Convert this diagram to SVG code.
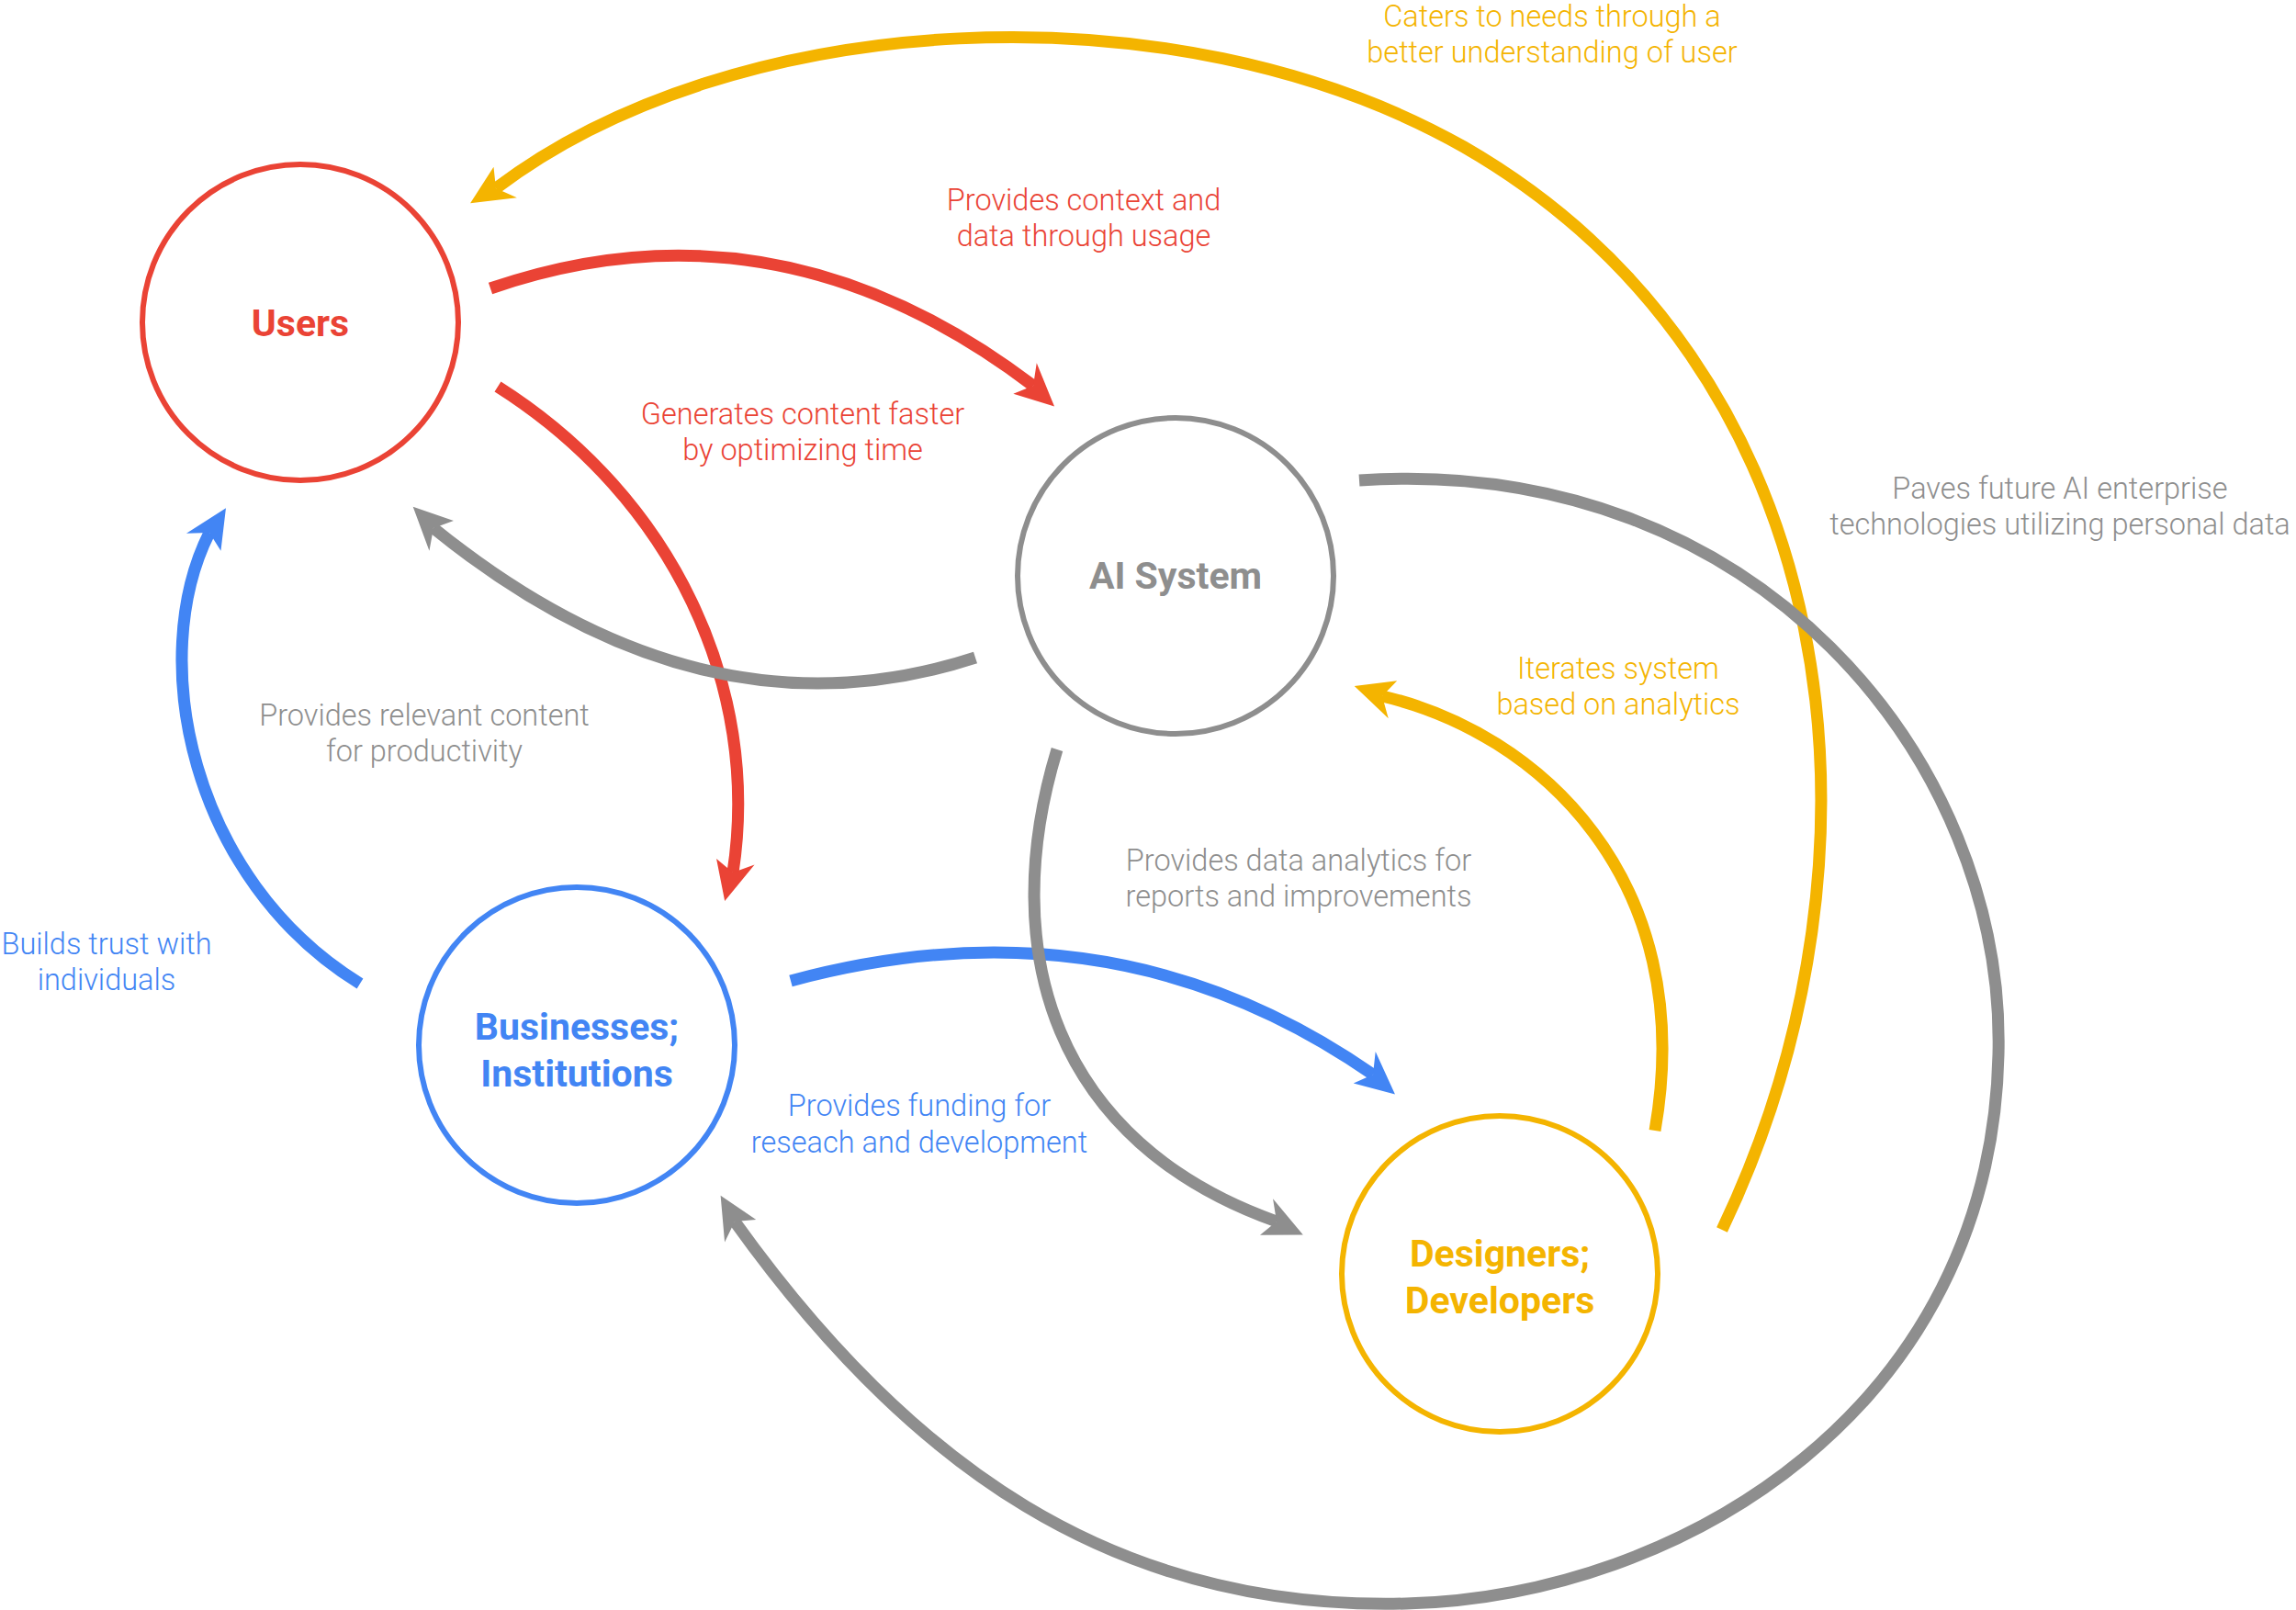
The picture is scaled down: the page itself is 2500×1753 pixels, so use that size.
<svg xmlns="http://www.w3.org/2000/svg" width="2500" height="1753" viewBox="0 0 2500 1753">
<style>
.node{fill:#fff;stroke-width:6}
.nt{font-family:Roboto,"Liberation Sans",sans-serif;font-weight:bold;font-size:41px;text-anchor:middle}
.lb{font-family:Roboto,"Liberation Sans",sans-serif;font-weight:300;font-size:32.5px;text-anchor:middle}
.c{fill:none;stroke-width:13;stroke-linecap:butt}
.red{stroke:#EA4335}.blue{stroke:#4285F4}.yel{stroke:#F4B400}.gry{stroke:#8E8E8E}
.tred{fill:#EA4335}.tblue{fill:#4285F4}.tyel{fill:#F4B400}.tgry{fill:#8E8E8E}
</style>
<defs>
<marker id="ar-r" viewBox="-10 -25 60 50" markerWidth="60" markerHeight="50" refX="10" refY="0" orient="auto" markerUnits="userSpaceOnUse"><path d="M-2,-22 L42,4 L-2,20 L10,0 z" fill="#EA4335"/></marker>
<marker id="ar-b" viewBox="-10 -25 60 50" markerWidth="60" markerHeight="50" refX="10" refY="0" orient="auto" markerUnits="userSpaceOnUse"><path d="M-2,-22 L42,4 L-2,20 L10,0 z" fill="#4285F4"/></marker>
<marker id="ar-y" viewBox="-10 -25 60 50" markerWidth="60" markerHeight="50" refX="10" refY="0" orient="auto" markerUnits="userSpaceOnUse"><path d="M-2,-22 L42,4 L-2,20 L10,0 z" fill="#F4B400"/></marker>
<marker id="ar-g" viewBox="-10 -25 60 50" markerWidth="60" markerHeight="50" refX="10" refY="0" orient="auto" markerUnits="userSpaceOnUse"><path d="M-2,-22 L42,4 L-2,20 L10,0 z" fill="#8E8E8E"/></marker>
</defs>
<rect width="2500" height="1753" fill="#fff"/>
<g id="connectors">
<path class="c yel" marker-end="url(#ar-y)" d="M1875,1339 C2073,925 2009,399 1594,160 C1276,-20 797,10 540,205"/>
<path class="c gry" marker-end="url(#ar-g)" d="M1480,523 C1913,494 2184,829 2176,1148 C2168,1531 1834,1738 1531,1746 C1212,1754 989,1594 800,1330"/>
<path class="c red" marker-end="url(#ar-r)" d="M534,314 Q845,207 1125,420"/>
<path class="c red" marker-end="url(#ar-r)" d="M542,421 C733,542 829,749 798,950"/>
<path class="c gry" marker-end="url(#ar-g)" d="M1062,716 Q765,813 472,575"/>
<path class="c blue" marker-end="url(#ar-b)" d="M392,1071 C207,957 159,717 228,580"/>
<path class="c blue" marker-end="url(#ar-b)" d="M861,1068 Q1212,973 1495,1170"/>
<path class="c gry" marker-end="url(#ar-g)" d="M1151,816 C1084,1036 1148,1244 1390,1330"/>
<path class="c yel" marker-end="url(#ar-y)" d="M1802,1231 C1850,957 1674,797 1505,758"/>
</g>
<g id="users"><circle class="node" cx="327" cy="351" r="172" stroke="#EA4335"/><text class="nt tred" x="327" y="366">Users</text></g>
<g id="ai"><circle class="node" cx="1280" cy="627" r="172" stroke="#8E8E8E"/><text class="nt tgry" x="1280" y="641">AI System</text></g>
<g id="businesses"><circle class="node" cx="628" cy="1138" r="172" stroke="#4285F4"/><text class="nt tblue" x="628" y="1132">Businesses;</text><text class="nt tblue" x="628" y="1183">Institutions</text></g>
<g id="designers"><circle class="node" cx="1633" cy="1387" r="172" stroke="#F4B400"/><text class="nt tyel" x="1633" y="1379">Designers;</text><text class="nt tyel" x="1633" y="1430">Developers</text></g>
<g id="labels">
<text class="lb tyel" x="1690" y="29">Caters to needs through a</text><text class="lb tyel" x="1690" y="68">better understanding of user</text>
<text class="lb tred" x="1180" y="229">Provides context and</text><text class="lb tred" x="1180" y="268">data through usage</text>
<text class="lb tred" x="874" y="462">Generates content faster</text><text class="lb tred" x="874" y="501">by optimizing time</text>
<text class="lb tgry" x="2243" y="543">Paves future AI enterprise</text><text class="lb tgry" x="2243" y="582">technologies utilizing personal data</text>
<text class="lb tyel" x="1762" y="739">Iterates system</text><text class="lb tyel" x="1762" y="778">based on analytics</text>
<text class="lb tgry" x="462" y="790">Provides relevant content</text><text class="lb tgry" x="462" y="829">for productivity</text>
<text class="lb tgry" x="1414" y="948">Provides data analytics for</text><text class="lb tgry" x="1414" y="987">reports and improvements</text>
<text class="lb tblue" x="116" y="1039">Builds trust with</text><text class="lb tblue" x="116" y="1078">individuals</text>
<text class="lb tblue" x="1001" y="1215">Provides funding for</text><text class="lb tblue" x="1001" y="1255">reseach and development</text>
</g>
</svg>
